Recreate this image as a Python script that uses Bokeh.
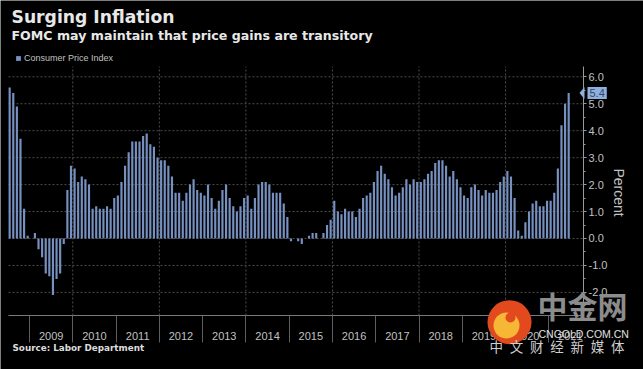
import math
from bokeh.plotting import figure
from bokeh.models import (FixedTicker, NumeralTickFormatter, Label, Range1d, Legend,
                          LegendItem, BoxAnnotation, PolyAnnotation, ColumnDataSource)
from bokeh.embed import file_html
from bokeh.resources import INLINE

# ---- data: US CPI, % change year over year, Jul 2008 .. Jun 2021 ----
start_year = 2008
start_month = 7
cpi_2008 = [5.6, 5.4, 4.9, 3.7, 1.1, 0.1]
cpi_2009 = [0.0, 0.2, -0.4, -0.7, -1.3, -1.4, -2.1, -1.5, -1.3, -0.2, 1.8, 2.7]
cpi_2010 = [2.6, 2.1, 2.3, 2.2, 2.0, 1.1, 1.2, 1.1, 1.1, 1.2, 1.1, 1.5]
cpi_2011 = [1.6, 2.1, 2.7, 3.2, 3.6, 3.6, 3.6, 3.8, 3.9, 3.5, 3.4, 3.0]
cpi_2012 = [2.9, 2.9, 2.7, 2.3, 1.7, 1.7, 1.4, 1.7, 2.0, 2.2, 1.8, 1.7]
cpi_2013 = [1.6, 2.0, 1.5, 1.1, 1.4, 1.8, 2.0, 1.5, 1.2, 1.0, 1.2, 1.5]
cpi_2014 = [1.6, 1.1, 1.5, 2.0, 2.1, 2.1, 2.0, 1.7, 1.7, 1.7, 1.3, 0.8]
cpi_2015 = [-0.1, 0.0, -0.1, -0.2, 0.0, 0.1, 0.2, 0.2, 0.0, 0.2, 0.5, 0.7]
cpi_2016 = [1.4, 1.0, 0.9, 1.1, 1.0, 1.0, 0.8, 1.1, 1.5, 1.6, 1.7, 2.1]
cpi_2017 = [2.5, 2.7, 2.4, 2.2, 1.9, 1.6, 1.7, 1.9, 2.2, 2.0, 2.2, 2.1]
cpi_2018 = [2.1, 2.2, 2.4, 2.5, 2.8, 2.9, 2.9, 2.7, 2.3, 2.5, 2.2, 1.9]
cpi_2019 = [1.6, 1.5, 1.9, 2.0, 1.8, 1.6, 1.8, 1.7, 1.7, 1.8, 2.1, 2.3]
cpi_2020 = [2.5, 2.3, 1.5, 0.3, 0.1, 0.6, 1.0, 1.3, 1.4, 1.2, 1.2, 1.4]
cpi_2021 = [1.4, 1.7, 2.6, 4.2, 5.0, 5.4]

year_labels = ["2009", "2010", "2011", "2012", "2013", "2014", "2015",
               "2016", "2017", "2018", "2019", "2020", "2021"]
y_ticks = [-2, -1, 0, 1, 2, 3, 4, 5, 6]
last_value_label = "5.4"

title_text = "Surging Inflation"
subtitle_text = "FOMC may maintain that price gains are transitory"
series_name = "Consumer Price Index"
source_text = "Source: Labor Department"
y_axis_title = "Percent"

values = (cpi_2008 + cpi_2009 + cpi_2010 + cpi_2011 + cpi_2012 + cpi_2013 + cpi_2014 +
          cpi_2015 + cpi_2016 + cpi_2017 + cpi_2018 + cpi_2019 + cpi_2020 + cpi_2021)
# x in "year" units: integer year = middle of that year, year boundaries at .5
xs = [start_year + (start_month - 1 + i + 0.5) / 12.0 - 0.5 for i in range(len(values))]
source = ColumnDataSource(dict(x=xs, v=values))
years = [int(s) for s in year_labels]

# ---- layout (the plot frame covers the whole 643x369 canvas) ----
W, H = 643, 369
X_LO, X_HI = 2007.830, 2022.687          # data x at canvas left / right edge
Y_LO, Y_HI = -4.861, 8.831               # data y at canvas bottom / top edge
PLOT_X0, PLOT_X1 = 2008.015, 2021.300    # plotting area (left edge / right axis)
PLOT_Y0, PLOT_Y1 = -2.857, 6.38          # plotting area (x-axis line / top)

BAR = "#7690c0"
AX = "#9a9a9a"
TXT = "#c0c0c0"
GRID = "#4d4d4d"

p = figure(width=W, height=H, x_range=Range1d(X_LO, X_HI), y_range=Range1d(Y_LO, Y_HI),
           output_backend="svg", toolbar_location=None, title=None,
           y_axis_location="right", min_border=0,
           min_border_left=0, min_border_right=0, min_border_top=0, min_border_bottom=0,
           background_fill_color="black", border_fill_color="black", outline_line_color=None)
p.xgrid.visible = False
p.ygrid.visible = False

# dotted grid lines, limited to the plotting area
p.segment(x0=PLOT_X0, x1=PLOT_X1, y0=y_ticks, y1=y_ticks,
          line_color=GRID, line_dash="2 2", line_width=1)
vgrid = [y - 0.5 for y in years[1:-1:2]]
p.segment(x0=vgrid, x1=vgrid, y0=PLOT_Y0, y1=PLOT_Y1,
          line_color=GRID, line_dash="2 2", line_width=1)

r = p.vbar(x="x", top="v", bottom=0, width=0.6 / 12, source=source,
           fill_color=BAR, line_color=None)

# x axis: year labels mid-year, separators (minor ticks) at year boundaries
xa = p.xaxis[0]
xa.fixed_location = PLOT_Y0
xa.bounds = (PLOT_X0, PLOT_X1)
xa.ticker = FixedTicker(ticks=years, minor_ticks=[y - 0.5 for y in years])
xa.major_tick_out = 0
xa.major_tick_in = 0
xa.minor_tick_out = 27
xa.minor_tick_in = 0
xa.minor_tick_line_color = "#5e5e5e"
xa.axis_line_color = "#7a7a7a"
xa.major_label_text_color = TXT
xa.major_label_text_font = "Liberation Sans"
xa.major_label_text_font_size = "11px"
xa.major_label_standoff = -10

# right y axis
ya = p.yaxis[0]
ya.fixed_location = PLOT_X1
ya.bounds = (PLOT_Y0, PLOT_Y1)
ya.ticker = FixedTicker(ticks=y_ticks, minor_ticks=[t + 0.5 for t in y_ticks[:-1]] + [-2.5])
ya.formatter = NumeralTickFormatter(format="0.0")
ya.major_tick_out = 3
ya.major_tick_in = 0
ya.minor_tick_out = 2
ya.minor_tick_in = 0
ya.major_tick_line_color = AX
ya.minor_tick_line_color = AX
ya.axis_line_color = AX
ya.major_label_text_color = TXT
ya.major_label_text_font = "Liberation Sans"
ya.major_label_text_font_size = "11px"
ya.major_label_standoff = 2

p.add_layout(Label(x=618, y=H - 192, x_units="screen", y_units="screen", text=y_axis_title,
                   angle=-math.pi / 2, text_align="center", text_baseline="middle",
                   text_font="Liberation Sans", text_font_size="14px", text_color=TXT))

# legend
legend = Legend(items=[LegendItem(label=series_name, renderers=[r])], location=(15, H - 63),
                glyph_width=6, glyph_height=6, label_height=6, label_standoff=3,
                label_text_font="Liberation Sans", label_text_font_size="9px",
                label_text_color=TXT, padding=0, margin=0, spacing=0,
                border_line_color=None, background_fill_alpha=0)
p.add_layout(legend)

# titles / source (screen units, y measured up from the bottom)
p.add_layout(Label(x=11, y=H - 26, x_units="screen", y_units="screen", text=title_text,
                   text_font="DejaVu Sans", text_font_style="bold", text_font_size="17.2px",
                   text_color="#e8e8e8"))
p.add_layout(Label(x=11, y=H - 42, x_units="screen", y_units="screen", text=subtitle_text,
                   text_font="DejaVu Sans", text_font_style="bold", text_font_size="12.6px",
                   text_color="#e8e8e8"))
p.add_layout(Label(x=12, y=H - 352, x_units="screen", y_units="screen", text=source_text,
                   text_font="DejaVu Sans", text_font_style="bold", text_font_size="8.8px",
                   text_color="#dddddd"))

# last value tag on the right axis
p.add_layout(PolyAnnotation(xs=[579, 584, 584], ys=[5.4, 5.62, 5.18], xs_units="screen",
                            ys_units="data", fill_color="#8fb0dc", fill_alpha=1,
                            line_color=None))
p.add_layout(Label(x=587, y=5.4, x_units="screen", y_units="data", text=last_value_label,
                   text_baseline="middle", text_align="left", text_font="Liberation Sans",
                   text_font_size="11px", text_color="#34466b",
                   background_fill_color="#8fb0dc", padding=2))

# watermark
def disc(cx, cy, rad, color):
    p.add_layout(BoxAnnotation(left=cx - rad, right=cx + rad, bottom=H - cy - rad,
                               top=H - cy + rad, left_units="screen", right_units="screen",
                               bottom_units="screen", top_units="screen",
                               fill_color=color, fill_alpha=1, line_color=None,
                               border_radius=rad))

disc(509, 321.7, 22, "#e2491f")
disc(506, 325, 13, "#f5b734")
disc(510, 317, 5, "#e2491f")
p.add_layout(Label(x=537, y=H - 326.4, x_units="screen", y_units="screen", text="中金网",
                   text_font="Noto Sans CJK SC", text_font_style="bold",
                   text_font_size="30px", text_color="#8c8c8c"))
p.add_layout(Label(x=538, y=H - 339.5, x_units="screen", y_units="screen",
                   text="CNGOLD.COM.CN", text_font="Liberation Sans",
                   text_font_size="10.5px", text_color="#e0e0e0"))
p.add_layout(Label(x=489, y=H - 355, x_units="screen", y_units="screen",
                   text="中\u2002文\u2002财\u2002经\u2002新\u2002媒\u2002体",
                   text_font="Noto Sans CJK SC", text_font_size="13.5px",
                   text_color="#cfcfcf"))

html = file_html(p, INLINE)
with open("out.html", "w") as f:
    f.write(html)
